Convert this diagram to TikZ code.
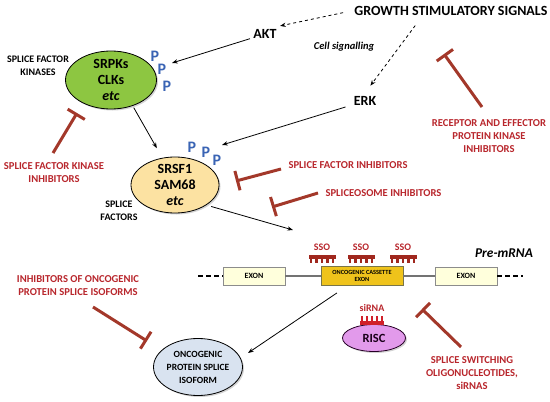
\documentclass[tikz,border=0pt]{standalone}
\usepackage{fontspec}
\setmainfont{Carlito}
\usepackage{xcolor}
\usetikzlibrary{positioning,arrows.meta,shapes,shadows}

\definecolor{inhred}{HTML}{A3382A}
\definecolor{labred}{HTML}{B8262C}
\definecolor{pblue}{HTML}{3A64B4}
\definecolor{kingreen}{HTML}{8DC641}
\definecolor{sfyellow}{HTML}{FCE2A2}
\definecolor{isoblue}{HTML}{D9E3F0}
\definecolor{riscviolet}{HTML}{E29AEB}
\definecolor{exonfill}{HTML}{FFFFDC}
\definecolor{casgold}{HTML}{EFC31B}
\definecolor{ssored}{HTML}{A0281E}
\definecolor{sired}{HTML}{D0202A}

\begin{document}
\begin{tikzpicture}[
    x=1pt, y=-1pt,
    every node/.style={font=\bfseries},
    sig/.style={font=\bfseries\fontsize{14}{16}\selectfont},
    lab/.style={align=center, font=\bfseries\fontsize{10}{12.5}\selectfont},
    redlab/.style={align=center, text=labred, font=\bfseries\fontsize{10.6}{13}\selectfont},
    smallred/.style={text=labred, font=\bfseries\fontsize{10}{11}\selectfont},
    cell/.style={ellipse, draw, line width=0.8pt, align=center, inner xsep=-2pt, inner ysep=-4pt,
        drop shadow={shadow xshift=1.5pt, shadow yshift=-1.5pt, opacity=0.35},
        font=\bfseries\fontsize{14}{16}\selectfont},
    pee/.style={text=pblue, inner sep=0pt, font=\bfseries\fontsize{16}{16}\selectfont},
    exonbox/.style={rectangle, draw=black!45, fill=exonfill, minimum width=62pt, minimum height=18pt,
        inner sep=0pt, font=\bfseries\fontsize{8}{9}\selectfont},
    arrow/.style={-{Stealth[length=2mm]}, line width=0.8pt},
    dasharrow/.style={arrow, dashed},
    inhibit/.style={-{Bar[width=20pt]}, line width=3pt, draw=inhred},
    rna/.style={draw=black!55, line width=1.5pt}
]
\useasboundingbox (0,0) rectangle (550,402);

\node[sig] (growth) at (451,11) {GROWTH STIMULATORY SIGNALS};
\node[sig] (akt) at (265,34) {AKT};
\node[sig] (erk) at (365,101) {ERK};
\node[font=\bfseries\itshape\fontsize{10.5}{12}\selectfont] (cellsig) at (344,47) {Cell signalling};

\node[cell, fill=kingreen, minimum width=91pt, minimum height=58pt] (srpk) at (111,80) {SRPKs\\CLKs\\\textit{etc}};
\node[cell, fill=sfyellow, minimum width=88pt, minimum height=56pt] (srsf) at (175,185) {SRSF1\\SAM68\\\textit{etc}};
\node[cell, fill=isoblue, minimum width=89pt, minimum height=57pt, inner xsep=-6pt,
    font=\bfseries\fontsize{9.5}{13}\selectfont] (iso) at (198,367) {ONCOGENIC\\PROTEIN SPLICE\\ISOFORM};
\node[cell, fill=riscviolet, draw=black!70!violet, minimum width=63pt, minimum height=27pt,
    text=black!80!violet, font=\bfseries\fontsize{12.5}{14}\selectfont] (risc) at (374,338) {RISC};

\node[lab] (kinlab) at (38,66) {SPLICE FACTOR\\KINASES};
\node[lab] (sflab) at (119,211) {SPLICE\\FACTORS};

\node[pee] (pk1) at (155,56) {P};
\node[pee] (pk2) at (162,69) {P};
\node[pee] (pk3) at (167,86) {P};
\node[pee] (ps1) at (192,147) {P};
\node[pee] (ps2) at (206,152) {P};
\node[pee] (ps3) at (217,160) {P};

\node[redlab] (sfki) at (54,173) {SPLICE FACTOR KINASE\\INHIBITORS};
\node[redlab, anchor=west] (sfi) at (285,165) {SPLICE FACTOR INHIBITORS};
\node[redlab, anchor=west] (spli) at (322,193) {SPLICEOSOME INHIBITORS};
\node[redlab] (reki) at (489,136) {RECEPTOR AND EFFECTOR\\PROTEIN KINASE\\INHIBITORS};
\node[redlab] (ioni) at (78,286) {INHIBITORS OF ONCOGENIC\\PROTEIN SPLICE ISOFORMS};
\node[redlab] (ssoi) at (472,373) {SPLICE SWITCHING\\OLIGONUCLEOTIDES,\\siRNAS};

\node[exonbox] (ex1) at (254,276) {EXON};
\node[exonbox, draw=black!60!yellow, fill=casgold, minimum width=82pt, minimum height=19pt, align=center,
    font=\bfseries\fontsize{6.3}{7}\selectfont] (cas) at (362,276) {ONCOGENIC CASSETTE\\EXON};
\node[exonbox] (ex2) at (466,276) {EXON};
\node[font=\bfseries\itshape\fontsize{13.4}{15}\selectfont] (premrna) at (504,253) {Pre-mRNA};

\foreach \x/\n in {322/a,361/b,403/c} {
    \node[smallred] (sso\n) at (\x,247) {SSO};
    \fill[ssored] (\x-13.5,255) rectangle (\x+13.5,258.5);
    \foreach \t in {-11,-5.5,0,5.5,11}
        \fill[ssored] (\x+\t-1.3,258) rectangle (\x+\t+1.3,263);
}
\node[smallred] (sirna) at (372,308) {siRNA};
\fill[sired] (360,321) rectangle (384,324.5);
\foreach \t in {-10,-5,0,5,10}
    \fill[sired] (372+\t-1.2,315.5) rectangle (372+\t+1.2,321.5);

\coordinate (kinp) at (172,63);
\coordinate (sfp) at (222,145);
\coordinate (rnatip) at (293,230);
\coordinate (isotip) at (248,353);
\coordinate (rnaL) at (198,276);
\coordinate (rnaR) at (523,276);

\draw[dasharrow, shorten <=8pt] (growth.west) -- (akt.north east);
\draw[dasharrow, shorten <=8pt, shorten >=9pt] ([xshift=-31pt]growth.south) -- (erk.north);
\draw[arrow] (akt) -- (kinp);
\draw[arrow, shorten <=5pt] (erk) -- (sfp);
\draw[arrow, shorten <=2pt, shorten >=11pt] (srpk.310) -- (srsf.115);
\draw[arrow, shorten <=5pt] (srsf.south east) -- (rnatip);
\draw[arrow, shorten <=13pt] (cas) -- (isotip);

\draw[rna] (ex1) -- (cas);
\draw[rna] (cas) -- (ex2);
\draw[line width=1.6pt, dash pattern=on 5pt off 3pt] (rnaL) -- (ex1.west);
\draw[line width=1.6pt, dash pattern=on 5pt off 3pt] (ex2.east) -- (rnaR);

\coordinate (sfkiA) at (53,153);
\coordinate (sfkiB) at (77,113);
\coordinate (sfiA) at (281,169);
\coordinate (sfiB) at (236,181);
\coordinate (spliA) at (318,193);
\coordinate (spliB) at (272,207);
\coordinate (rekiA) at (482,107);
\coordinate (rekiB) at (444,54);
\coordinate (ssoiA) at (461,347);
\coordinate (ssoiB) at (422,309);
\coordinate (ioniA) at (93,307);
\coordinate (ioniB) at (147,341);

\draw[inhibit] (sfkiA) -- (sfkiB);
\draw[inhibit] (sfiA) -- (sfiB);
\draw[inhibit] (spliA) -- (spliB);
\draw[inhibit] (rekiA) -- (rekiB);
\draw[inhibit] (ssoiA) -- (ssoiB);
\draw[inhibit] (ioniA) -- (ioniB);
\end{tikzpicture}
\end{document}
